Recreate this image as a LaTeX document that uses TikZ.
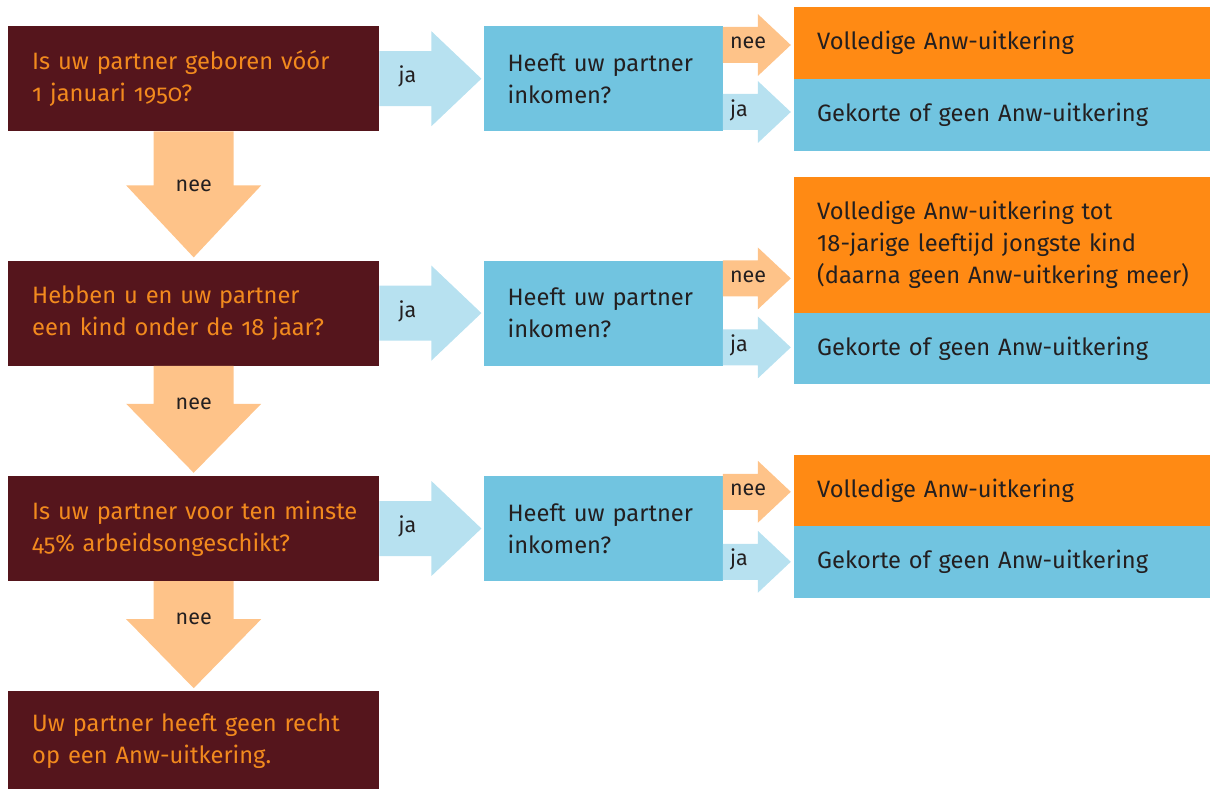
\documentclass[tikz,border=0pt]{standalone}
\usepackage{fontspec}
\setmainfont{Fira Sans}
\newfontfamily\oudcijfers[Numbers=OldStyle]{Fira Sans}
\usetikzlibrary{positioning,calc}

\definecolor{wijnrood}{HTML}{55151C}
\definecolor{vraagoranje}{HTML}{F28A1E}
\definecolor{zalm}{HTML}{FEC389}
\definecolor{hemelblauw}{HTML}{71C4E0}
\definecolor{lichtblauw}{HTML}{B7E1F0}
\definecolor{feloranje}{HTML}{FF8A14}
\definecolor{donker}{HTML}{231F20}

\tikzstyle{vraag}=[fill=wijnrood, text=vraagoranje, minimum height=105pt, text width=371pt, inner xsep=0pt, align=left, execute at begin node={\leftskip=24pt}, font=\oudcijfers\fontsize{23.7}{32}\selectfont]
\tikzstyle{check}=[fill=hemelblauw, text=donker, minimum height=105pt, text width=239pt, inner xsep=0pt, align=left, execute at begin node={\leftskip=24pt}, font=\fontsize{23.7}{32}\selectfont]
\tikzstyle{uitk}=[anchor=north west, text=donker, text width=416pt, inner xsep=0pt, align=left, execute at begin node={\leftskip=23pt}, font=\fontsize{23.7}{32}\selectfont]
\tikzstyle{lbl}=[text=donker, inner sep=0pt, font=\fontsize{21.5}{24}\selectfont]

% brede pijl omlaag tussen twee vragen
\newcommand{\pijlomlaag}[3]{%
 \fill[zalm] ($(#1.south)+(-40,0)$) -- ($(#2.north)+(-40,-#3)$) -- ($(#2.north)+(-67.5,-#3)$)
   -- ($(#2.north)+(0,-3)$) -- ($(#2.north)+(67.5,-#3)$) -- ($(#2.north)+(40,-#3)$)
   -- ($(#1.south)+(40,0)$) -- cycle;
 \node[lbl] at ($(#2.north)+(0,-#3)$) {nee};}
% brede pijl naar rechts van vraag naar check
\newcommand{\pijlrechts}[2]{%
 \fill[lichtblauw] ($(#1.east)+(0,-27.5)$) -- ($(#2.west)+(-52,-27.5)$) -- ($(#2.west)+(-52,-47.5)$)
   -- ($(#2.west)+(-2,0)$) -- ($(#2.west)+(-52,47.5)$) -- ($(#2.west)+(-52,27.5)$)
   -- ($(#1.east)+(0,27.5)$) -- cycle;
 \node[lbl] at ($(#1.east)+(28,-2)$) {ja};}
% kleine pijl van check naar uitkering
\newcommand{\pijltje}[4]{%
 \fill[#3] ($(#1.north east)+(0,#2-18)$) -- ++(35,0) -- ++(0,-13) -- ++(33,31)
   -- ++(-33,31) -- ++(0,-13) -- ++(-35,0) -- cycle;
 \node[lbl, anchor=west] at ($(#1.north east)+(7,#2-2)$) {#4};}

\begin{document}
\begin{tikzpicture}[x=1pt, y=-1pt]
 \useasboundingbox (0,0) rectangle (1210,789);

 % vragen
 \node[vraag, anchor=north west] (q1) at (8,26) {Is uw partner geboren vóór\\1 januari 1950?};
 \node[vraag] (q2) [below=129pt of q1] {Hebben u en uw partner\\een kind onder de 18 jaar?};
 \node[vraag] (q3) [below=110pt of q2] {Is uw partner voor ten minste\\45\% arbeidsongeschikt?};
 \node[vraag, minimum height=99pt] (q4) [below=110pt of q3] {Uw partner heeft geen recht\\op een Anw-uitkering.};

 % inkomen
 \node[check] (c1) [right=104pt of q1] {Heeft uw partner\\inkomen?};
 \node[check] (c2) [right=104pt of q2] {Heeft uw partner\\inkomen?};
 \node[check] (c3) [right=104pt of q3] {Heeft uw partner\\inkomen?};

 % uitkeringen
 \node[uitk, fill=feloranje, minimum height=72pt] (v1) at (794,7) {Volledige Anw-uitkering};
 \node[uitk, fill=hemelblauw, minimum height=72pt] (g1) at (794,79) {Gekorte of geen Anw-uitkering};
 \node[uitk, fill=feloranje, minimum height=136pt] (v2) at (794,177) {Volledige Anw-uitkering tot\\18-jarige leeftijd jongste kind\\(daarna geen Anw-uitkering meer)};
 \node[uitk, fill=hemelblauw, minimum height=71pt] (g2) at (794,313) {Gekorte of geen Anw-uitkering};
 \node[uitk, fill=feloranje, minimum height=71pt] (v3) at (794,455) {Volledige Anw-uitkering};
 \node[uitk, fill=hemelblauw, minimum height=72pt] (g3) at (794,526) {Gekorte of geen Anw-uitkering};

 \pijlomlaag{q1}{q2}{75}
 \pijlomlaag{q2}{q3}{72}
 \pijlomlaag{q3}{q4}{72}

 \pijlrechts{q1}{c1}
 \pijlrechts{q2}{c2}
 \pijlrechts{q3}{c3}

 \pijltje{c1}{19}{zalm}{nee}
 \pijltje{c1}{86}{lichtblauw}{ja}
 \pijltje{c2}{18}{zalm}{nee}
 \pijltje{c2}{87}{lichtblauw}{ja}
 \pijltje{c3}{16}{zalm}{nee}
 \pijltje{c3}{86}{lichtblauw}{ja}
\end{tikzpicture}
\end{document}
